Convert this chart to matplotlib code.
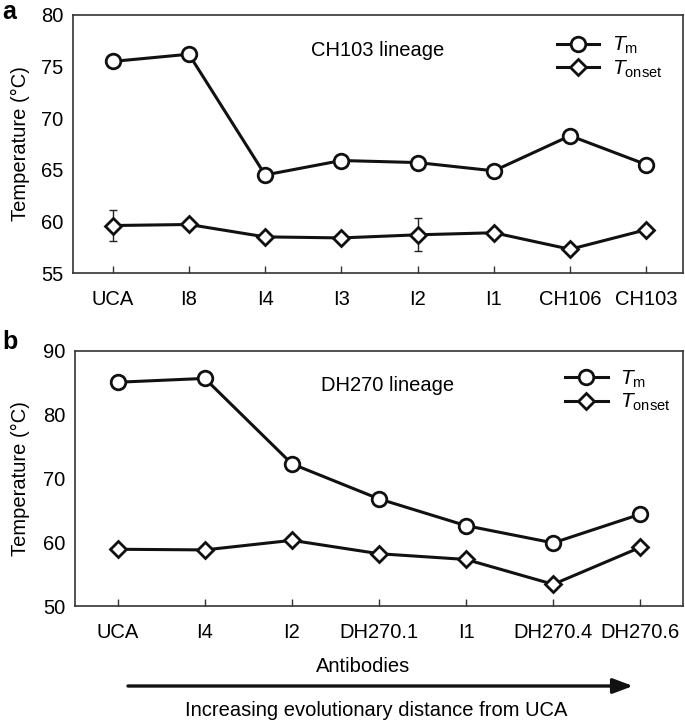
import matplotlib
matplotlib.use("Agg")
import matplotlib.pyplot as plt
from matplotlib.patches import FancyArrowPatch

plt.rcParams['font.family'] = ['Liberation Sans', 'DejaVu Sans']
plt.rcParams['mathtext.fontset'] = 'custom'
plt.rcParams['mathtext.rm'] = 'Liberation Sans'
plt.rcParams['mathtext.it'] = 'Liberation Sans:italic'

# Panel a: CH103 lineage
a_labels = ["UCA", "I8", "I4", "I3", "I2", "I1", "CH106", "CH103"]
a_tm = [75.5, 76.2, 64.5, 65.9, 65.7, 64.9, 68.3, 65.5]
a_tm_err = [0, 0, 0, 0, 0.4, 0, 0, 0]
a_ton = [59.6, 59.7, 58.5, 58.4, 58.7, 58.9, 57.3, 59.2]
a_ton_err = [1.5, 0, 0, 0, 1.6, 0, 0, 0]

# Panel b: DH270 lineage
b_labels = ["UCA", "I4", "I2", "DH270.1", "I1", "DH270.4", "DH270.6"]
b_tm = [85.1, 85.7, 72.3, 66.8, 62.6, 59.9, 64.4]
b_ton = [58.9, 58.8, 60.3, 58.2, 57.3, 53.4, 59.2]

fig = plt.figure(figsize=(6.85, 7.22), dpi=100)
W, H = 685, 722

def ax_at(l, t, r, b):
    return fig.add_axes([l / W, 1 - b / H, (r - l) / W, (b - t) / H])

axa = ax_at(73, 15, 683, 273)
axb = ax_at(75, 351, 683, 606)

lw = 2.2
FS = 14.5
def draw(ax, labels, tm, ton, leg_anchor, ylab_x, tm_err=None, ton_err=None):
    x = list(range(len(labels)))
    if tm_err is not None:
        ax.errorbar(x, tm, yerr=tm_err, fmt='none', ecolor='#222222', elinewidth=1, capsize=3, capthick=1, zorder=1)
    if ton_err is not None:
        ax.errorbar(x, ton, yerr=ton_err, fmt='none', ecolor='#222222', elinewidth=1, capsize=3, capthick=1, zorder=1)
    l1, = ax.plot(x, tm, '-', color='#111111', lw=lw, marker='o', ms=10.5, mfc='white', mec='#111111', mew=2, zorder=3)
    l2, = ax.plot(x, ton, '-', color='#111111', lw=lw, marker='D', ms=8.3, mfc='white', mec='#111111', mew=2, zorder=3)
    ax.set_xticks(x)
    ax.set_xticklabels(labels)
    ax.tick_params(axis='x', direction='in', length=5, width=1, color='#333333', labelsize=FS, pad=12)
    ax.tick_params(axis='y', direction='in', length=0, labelsize=FS, pad=7)
    for s in ax.spines.values():
        s.set_linewidth(1.2)
        s.set_color('#333333')
    ax.set_ylabel('Temperature (°C)', fontsize=FS)
    ax.yaxis.set_label_coords(ylab_x, 0.5)
    leg = ax.legend([l1, l2], [r'$\mathit{T}_\mathrm{m}$', r'$\mathit{T}_\mathrm{onset}$'],
                    loc='upper left', bbox_to_anchor=leg_anchor, frameon=False,
                    fontsize=15, handlelength=2.05, handletextpad=0.6, labelspacing=0.1,
                    borderaxespad=0.5)
    return leg

draw(axa, a_labels, a_tm, a_ton, (0.762, 0.995), (30 - 73) / 610, a_tm_err, a_ton_err)
axa.set_xlim(-0.52, 7.48)
axa.set_ylim(55, 80)
axa.set_yticks([55, 60, 65, 70, 75, 80])
axa.text(2.6, 76.6, 'CH103 lineage', fontsize=FS, va='center', ha='left')

draw(axb, b_labels, b_tm, b_ton, (0.775, 1.005), (30 - 75) / 608)
axb.set_xlim(-0.49, 6.49)
axb.set_ylim(50, 90)
axb.set_yticks([50, 60, 70, 80, 90])
axb.text(2.33, 84.6, 'DH270 lineage', fontsize=FS, va='center', ha='left')

fig.text(2 / W, 1 - 19 / H, 'a', fontsize=18, fontweight='bold', va='baseline', ha='left')
fig.text(2 / W, 1 - 349 / H, 'b', fontsize=18, fontweight='bold', va='baseline', ha='left')

fig.text(363 / W, 1 - 667 / H, 'Antibodies', fontsize=FS, ha='center', va='center')
fig.text(185 / W, 1 - 710 / H, 'Increasing evolutionary distance from UCA', fontsize=FS, ha='left', va='center')
fig.patches.append(FancyArrowPatch((128 / W, 1 - 686 / H), (633 / W, 1 - 686 / H),
                   transform=fig.transFigure, arrowstyle='-|>,head_length=12,head_width=4.5',
                   mutation_scale=1, lw=2.4, color='#111111', shrinkA=0, shrinkB=0))

fig.savefig('out.png', dpi=100)
